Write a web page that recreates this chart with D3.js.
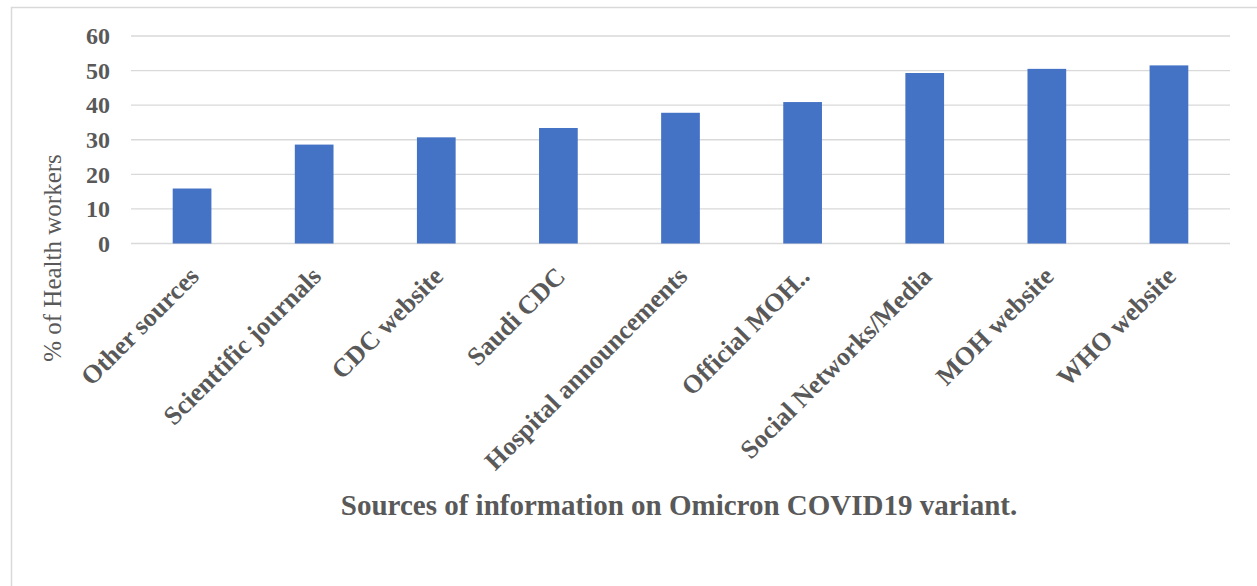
<!DOCTYPE html>
<html>
<head>
<meta charset="utf-8">
<script src="https://cdn.jsdelivr.net/npm/d3@7"></script>
<style>
  body { margin: 0; background: #fff; }
  text { font-family: "Liberation Serif", "Times New Roman", serif; fill: #595959; }
</style>
</head>
<body>
<svg id="chart"></svg>
<script>

var categories = ["Other sources", "Scienttific journals", "CDC website", "Saudi CDC",
    "Hospital announcements", "Official MOH..", "Social Networks/Media", "MOH website", "WHO website"];
var values = [15.9, 28.6, 30.7, 33.4, 37.8, 40.9, 49.3, 50.5, 51.5];
var yTicks = [0, 10, 20, 30, 40, 50, 60];

var width = 1257, height = 586;
var margin = { top: 36, right: 27, bottom: 342.5, left: 131 };

var svg = d3.select("#chart")
    .attr("width", width)
    .attr("height", height);

// outer chart border (runs off the right and bottom edges)
svg.append("rect")
    .attr("x", 11.5)
    .attr("y", 7.5)
    .attr("width", 1400)
    .attr("height", 800)
    .style("fill", "none")
    .style("stroke", "#d9d9d9")
    .style("stroke-width", 1.5);

var x = d3.scaleBand()
    .domain(categories)
    .range([margin.left, width - margin.right])
    .paddingInner(0.683)
    .paddingOuter(0.3415);

var y = d3.scaleLinear()
    .domain([0, 60])
    .range([height - margin.bottom, margin.top]);

// gridlines
svg.append("g")
    .selectAll("line")
    .data(yTicks)
    .enter()
    .append("line")
    .attr("x1", margin.left)
    .attr("x2", width - margin.right)
    .attr("y1", function (d) { return y(d); })
    .attr("y2", function (d) { return y(d); })
    .style("stroke", "#d9d9d9")
    .style("stroke-width", 1.3);

// y axis labels
var yAxis = d3.axisLeft(y)
    .tickValues(yTicks)
    .tickSize(0)
    .tickPadding(0);

svg.append("g")
    .attr("class", "y axis")
    .attr("transform", "translate(110,0)")
    .call(yAxis)
    .call(function (g) { g.select(".domain").remove(); })
    .selectAll("text")
    .style("font-family", "'Liberation Serif', 'Times New Roman', serif")
    .style("font-size", "24px")
    .style("font-weight", "bold")
    .style("fill", "#595959");

// bars
svg.append("g")
    .selectAll("rect")
    .data(values)
    .enter()
    .append("rect")
    .attr("x", function (d, i) { return x(categories[i]); })
    .attr("width", x.bandwidth())
    .attr("y", function (d) { return y(d); })
    .attr("height", function (d) { return y(0) - y(d); })
    .style("fill", "#4472c4");

// x axis labels, rotated
var xAxis = d3.axisBottom(x)
    .tickSize(0)
    .tickPadding(0);

svg.append("g")
    .attr("class", "x axis")
    .attr("transform", "translate(0," + y(0) + ")")
    .call(xAxis)
    .call(function (g) { g.select(".domain").remove(); })
    .selectAll("text")
    .attr("y", 0)
    .attr("dy", "0.35em")
    .attr("text-anchor", "end")
    .attr("transform", "translate(2,28) rotate(-45)")
    .style("font-family", "'Liberation Serif', 'Times New Roman', serif")
    .style("font-size", "26px")
    .style("font-weight", "bold")
    .style("fill", "#595959");

// axis titles
svg.append("text")
    .attr("x", 679)
    .attr("y", 515)
    .attr("text-anchor", "middle")
    .style("font-size", "29px")
    .style("font-weight", "bold")
    .text("Sources of information on Omicron COVID19 variant.");

svg.append("text")
    .attr("transform", "translate(61,258) rotate(-90)")
    .attr("text-anchor", "middle")
    .style("font-size", "25px")
    .text("% of Health workers");

</script>
</body>
</html>
